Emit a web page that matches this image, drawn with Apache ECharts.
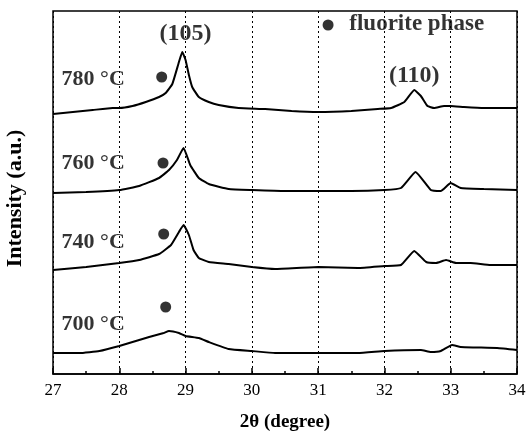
<!DOCTYPE html>
<html>
<head>
<meta charset="utf-8">
<script src="https://cdn.jsdelivr.net/npm/echarts@6/dist/echarts.min.js"></script>
<style>html,body{margin:0;padding:0;background:#fff}#c{width:526px;height:437px}</style>
</head>
<body>
<div id="c"></div>
<script>
// 2θ (degree) vs intensity (a.u., offset traces)
const xTicks = [27, 28, 29, 30, 31, 32, 33, 34];
const s780 = [[27.0,260],[27.3,262],[27.6,264],[27.9,266],[28.0,266],[28.2,268],[28.4,272],[28.6,277],[28.7,281],[28.8,290],[28.9,312],[28.95,322],[29.0,314],[29.05,299],[29.1,287],[29.2,277],[29.35,272],[29.5,269],[29.8,266],[30.2,265],[30.6,263],[31.0,262],[31.5,263],[31.9,265],[32.1,266],[32.3,272],[32.45,284],[32.55,278],[32.65,268],[32.75,266],[32.9,268],[33.0,268],[33.2,267],[33.5,266],[34.0,266]];
const s760 = [[27.0,181],[27.5,182],[28.0,184],[28.3,188],[28.6,196],[28.75,204],[28.87,214],[28.97,226],[29.07,209],[29.2,196],[29.35,190],[29.65,185],[30.0,184],[30.5,183],[31.0,183],[31.5,183],[32.0,184],[32.25,186],[32.47,202],[32.7,184],[32.85,183],[33.0,191],[33.15,186],[33.5,185],[34.0,184]];
const s740 = [[27.0,104],[27.5,107],[28.0,111],[28.3,114],[28.6,120],[28.78,129],[28.9,142],[28.97,149],[29.05,139],[29.12,124],[29.2,116],[29.35,112],[29.65,110],[30.0,107],[30.35,105],[31.0,107],[31.6,106],[32.0,108],[32.25,109],[32.45,123],[32.63,112],[32.78,111],[32.93,114],[33.08,111],[33.3,111],[33.6,109],[34.0,109]];
const s700 = [[27.0,21],[27.4,21],[27.7,23],[28.0,28],[28.3,34],[28.45,37],[28.67,41],[28.75,43],[28.9,41],[29.0,38],[29.2,36],[29.35,32],[29.65,25],[30.0,23],[30.35,21],[31.0,21],[31.6,21],[32.0,23],[32.55,24],[32.7,22],[32.85,23],[33.02,29],[33.15,27],[33.7,26],[34.0,24]];
const fluoriteDots = [[28.64,297],[28.66,211],[28.67,140],[28.70,67],[31.15,349]];
const tempLabels = [[27.13,295,'780 °C'],[27.13,211,'760 °C'],[27.13,132,'740 °C'],[27.13,50,'700 °C']];
const peakLabels = [[29.0,340,'(105)'],[32.45,298,'(110)']];
const legendLabel = [[31.47,350,'fluorite phase']];

const serif = '"Liberation Serif","DejaVu Serif",serif';
const chart = echarts.init(document.getElementById('c'), null, {renderer:'canvas'});
const lineSeries = (d) => ({type:'line', data:d, symbol:'none', smooth:0.12, lineStyle:{color:'#000', width:2}, z:3, silent:true});
const textSeries = (d, size, align) => ({
  type:'scatter', data:d, symbolSize:0, silent:true, z:5,
  label:{show:true, position:'inside', align:align, verticalAlign:'middle',
    formatter:p=>p.data[2], fontFamily:serif, fontWeight:'bold', fontSize:size, color:'#000'}
});
chart.setOption({
  animation:false,
  grid:{left:53, right:9, top:11, bottom:63, outerBoundsMode:'none', containLabel:false,
    show:true, borderColor:'#000', borderWidth:1.5},
  xAxis:{type:'value', min:27, max:34, interval:1,
    name:'2θ (degree)', nameLocation:'middle', nameGap:39,
    nameTextStyle:{fontFamily:serif, fontWeight:'bold', fontSize:19, color:'#000'},
    axisLine:{lineStyle:{color:'#000', width:1.5}},
    axisTick:{inside:true, length:6, lineStyle:{color:'#000', width:1.5}},
    minorTick:{show:true, splitNumber:2, length:3, lineStyle:{color:'#000', width:1.5}},
    axisLabel:{fontFamily:serif, fontSize:17, color:'#000', margin:8,
      formatter:v=>xTicks.includes(v)?String(v):''},
    splitLine:{show:true, lineStyle:{color:'#000', type:[2,3], width:1}}
  },
  yAxis:{type:'value', min:0, max:363,
    name:'Intensity (a.u.)', nameLocation:'middle', nameGap:27,
    nameTextStyle:{fontFamily:serif, fontWeight:'bold', fontSize:22, color:'#000', padding:[0,12,0,0]},
    axisLine:{show:false}, axisTick:{show:false}, axisLabel:{show:false}, splitLine:{show:false}
  },
  series:[
    lineSeries(s780), lineSeries(s760), lineSeries(s740), lineSeries(s700),
    {type:'scatter', data:fluoriteDots, symbol:'circle', symbolSize:11, itemStyle:{color:'#000'}, z:4, silent:true},
    textSeries(tempLabels, 22, 'left'),
    textSeries(peakLabels, 24, 'center'),
    textSeries(legendLabel, 23, 'left')
  ]
});
</script>
</body>
</html>
